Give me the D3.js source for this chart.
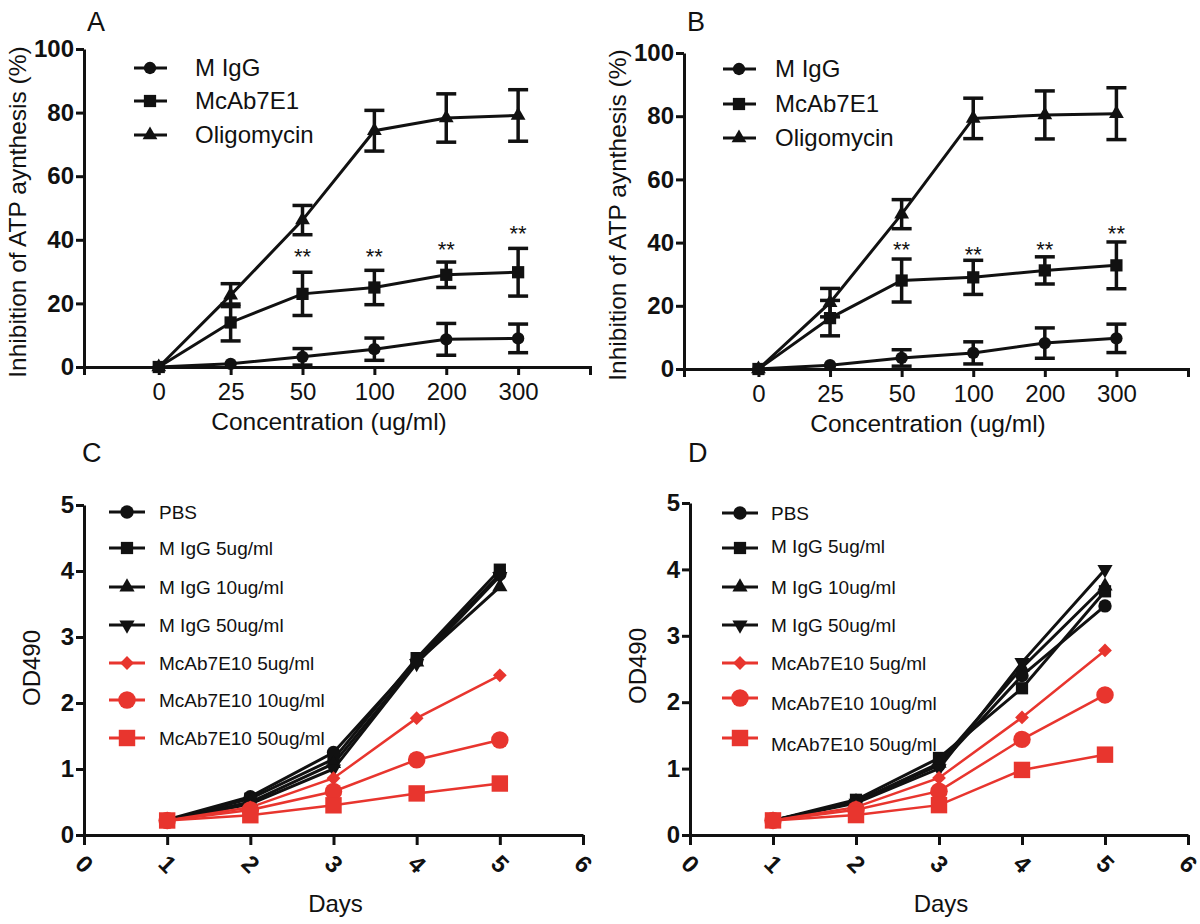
<!DOCTYPE html>
<html>
<head>
<meta charset="utf-8">
<script src="https://cdn.jsdelivr.net/npm/d3@7"></script>
<style>
body { margin: 0; background: #fff; }
text { font-family: "Liberation Sans", Arial, sans-serif; fill: #111; }
</style>
</head>
<body>
<svg id="fig" width="1200" height="924"></svg>
<script>
// panels A and B : inhibition of ATP synthesis
var concLabels = ["0", "25", "50", "100", "200", "300"];
var abNames = ["M IgG", "McAb7E1", "Oligomycin"];

var aIgG = [0, 1.0, 3.2, 5.6, 8.7, 9.0];
var aIgGErr = [0, 0, 2.6, 3.5, 5.0, 4.5];
var aMcAb = [0, 14.0, 23.0, 25.0, 29.0, 29.8];
var aMcAbErr = [0, 5.8, 6.8, 5.4, 4.0, 7.5];
var aOligo = [0, 22.6, 46.2, 74.3, 78.3, 79.1];
var aOligoErr = [0, 3.6, 4.6, 6.4, 7.6, 8.1];
var aStars = [null, null, 36, 36, 38, 43];

var bIgG = [0, 1.2, 3.5, 5.1, 8.2, 9.7];
var bIgGErr = [0, 0, 2.6, 3.5, 4.8, 4.5];
var bMcAb = [0, 16.1, 28.0, 29.0, 31.2, 32.8];
var bMcAbErr = [0, 5.6, 6.8, 5.4, 4.3, 7.4];
var bOligo = [0, 21.0, 49.0, 79.3, 80.4, 80.8];
var bOligoErr = [0, 4.5, 4.6, 6.4, 7.6, 8.2];
var bStars = [null, null, 39, 37.5, 39, 44];

// panels C and D : cell growth (OD490)
var days = [1, 2, 3, 4, 5];
var cdNames = ["PBS", "M IgG 5ug/ml", "M IgG 10ug/ml", "M IgG 50ug/ml",
    "McAb7E10 5ug/ml", "McAb7E10 10ug/ml", "McAb7E10 50ug/ml"];

var cPBS = [0.23, 0.58, 1.25, 2.64, 3.95];
var cIgG5 = [0.22, 0.55, 1.15, 2.68, 4.02];
var cIgG10 = [0.22, 0.50, 1.08, 2.62, 3.76];
var cIgG50 = [0.22, 0.47, 1.00, 2.60, 3.92];
var cMc5 = [0.22, 0.42, 0.86, 1.77, 2.42];
var cMc10 = [0.22, 0.38, 0.66, 1.14, 1.44];
var cMc50 = [0.22, 0.30, 0.45, 0.63, 0.78];

var dPBS = [0.22, 0.50, 1.05, 2.40, 3.45];
var dIgG5 = [0.22, 0.53, 1.16, 2.21, 3.67];
var dIgG10 = [0.22, 0.50, 1.08, 2.52, 3.75];
var dIgG50 = [0.22, 0.48, 1.00, 2.60, 4.00];
var dMc5 = [0.22, 0.42, 0.86, 1.77, 2.78];
var dMc10 = [0.22, 0.38, 0.66, 1.44, 2.11];
var dMc50 = [0.22, 0.30, 0.45, 0.98, 1.21];

var red = "#e8352e";
var svg = d3.select("#fig");

// marker shapes built from d3 symbols (down triangle / diamond are rotated)
function marker(sel, kind, size) {
    var type = d3.symbolCircle, rot = 0;
    if (kind === "square") type = d3.symbolSquare;
    if (kind === "triangle") type = d3.symbolTriangle;
    if (kind === "down") { type = d3.symbolTriangle; rot = 180; }
    if (kind === "diamond") { type = d3.symbolSquare; rot = 45; }
    return sel.attr("d", d3.symbol().type(type).size(size)())
        .attr("data-rot", rot);
}

function place(sel, x, y) {
    sel.attr("transform", function () {
        return "translate(" + x + "," + y + ") rotate(" + this.getAttribute("data-rot") + ")";
    });
}

function styleAxis(g, size, weight) {
    g.selectAll(".domain").attr("stroke", "#111").attr("stroke-width", 3);
    g.selectAll(".tick line").attr("stroke", "#111").attr("stroke-width", 3);
    g.selectAll(".tick text").style("font-size", size + "px")
        .style("font-weight", weight).attr("fill", "#111");
}

// ---------- A / B ----------
function drawATP(p) {
    var g = svg.append("g");
    var x = d3.scaleLinear().domain([-1.04, 6]).range([p.left, p.right]);
    var y = d3.scaleLinear().domain([0, 100]).range([p.bottom, p.top]);

    var xa = g.append("g").attr("transform", "translate(0," + p.bottom + ")")
        .call(d3.axisBottom(x).tickValues([0, 1, 2, 3, 4, 5])
            .tickFormat(function (i) { return concLabels[i]; })
            .tickSize(8).tickSizeOuter(8).tickPadding(8));
    styleAxis(xa, 24, "normal");

    var ya = g.append("g").attr("transform", "translate(" + p.left + ",0)")
        .call(d3.axisLeft(y).tickValues([0, 20, 40, 60, 80, 100])
            .tickSize(8).tickSizeOuter(0).tickPadding(2));
    styleAxis(ya, 24, "bold");

    g.append("text").attr("x", (p.left + p.right) / 2 - 8).attr("y", p.bottom + 63)
        .attr("text-anchor", "middle").style("font-size", "24.5px")
        .text("Concentration (ug/ml)");
    g.append("text")
        .attr("transform", "translate(" + (p.left - 58) + "," + ((p.bottom + p.top) / 2 + 4) + ") rotate(-90)")
        .attr("text-anchor", "middle").style("font-size", "24.5px")
        .text("Inhibition of ATP aynthesis (%)");
    g.append("text").attr("x", p.left + 3).attr("y", 31)
        .style("font-size", "27px").text(p.letter);

    var series = [
        { name: abNames[0], v: p.igg, e: p.iggErr, m: "circle", s: 120 },
        { name: abNames[1], v: p.mcab, e: p.mcabErr, m: "square", s: 150 },
        { name: abNames[2], v: p.oligo, e: p.oligoErr, m: "triangle", s: 95 }
    ];
    var line = d3.line().x(function (d, i) { return x(i); }).y(function (d) { return y(d); });

    series.forEach(function (s) {
        g.append("path").attr("d", line(s.v)).attr("fill", "none")
            .attr("stroke", "#111").attr("stroke-width", 3);
        s.v.forEach(function (v, i) {
            var e = s.e[i];
            if (e > 0) {
                g.append("line").attr("x1", x(i)).attr("x2", x(i))
                    .attr("y1", y(v - e)).attr("y2", y(v + e))
                    .attr("stroke", "#111").attr("stroke-width", 3.5);
                [v - e, v + e].forEach(function (c) {
                    g.append("line").attr("x1", x(i) - 10).attr("x2", x(i) + 10)
                        .attr("y1", y(c)).attr("y2", y(c))
                        .attr("stroke", "#111").attr("stroke-width", 3.5);
                });
            }
            var mk = marker(g.append("path"), s.m, s.s).attr("fill", "#111");
            place(mk, x(i), y(v));
        });
    });

    p.stars.forEach(function (v, i) {
        if (v === null) return;
        g.append("text").attr("x", x(i)).attr("y", y(v) + 11)
            .attr("text-anchor", "middle").style("font-size", "22px").text("**");
    });

    // legend
    series.forEach(function (s, k) {
        var ly = p.legendY[k];
        g.append("line").attr("x1", p.legendX - 16).attr("x2", p.legendX + 17)
            .attr("y1", ly).attr("y2", ly).attr("stroke", "#111").attr("stroke-width", 3);
        place(marker(g.append("path"), s.m, s.s).attr("fill", "#111"), p.legendX, ly);
        g.append("text").attr("x", p.legendX + p.textGap).attr("y", ly + 8)
            .style("font-size", "24px").text(s.name);
    });
}

drawATP({
    letter: "A", left: 84, right: 590, top: 49, bottom: 367,
    igg: aIgG, iggErr: aIgGErr, mcab: aMcAb, mcabErr: aMcAbErr,
    oligo: aOligo, oligoErr: aOligoErr, stars: aStars,
    legendX: 150, legendY: [68, 101, 135], textGap: 45
});
drawATP({
    letter: "B", left: 684, right: 1188, top: 53, bottom: 369,
    igg: bIgG, iggErr: bIgGErr, mcab: bMcAb, mcabErr: bMcAbErr,
    oligo: bOligo, oligoErr: bOligoErr, stars: bStars,
    legendX: 739, legendY: [69, 104, 138], textGap: 36
});

// ---------- C / D ----------
function drawGrowth(p) {
    var g = svg.append("g");
    var x = d3.scaleLinear().domain([0, 6]).range([p.left, p.right]);
    var y = d3.scaleLinear().domain([0, 5]).range([p.bottom, p.top]);

    var xa = g.append("g").attr("transform", "translate(0," + p.bottom + ")")
        .call(d3.axisBottom(x).tickValues([0, 1, 2, 3, 4, 5, 6])
            .tickFormat(d3.format("d")).tickSize(10).tickSizeOuter(0));
    styleAxis(xa, 24, "bold");
    xa.selectAll(".tick text").attr("y", 0).attr("dy", null)
        .attr("dominant-baseline", "central")
        .attr("transform", "translate(0,29) rotate(45)");

    var ya = g.append("g").attr("transform", "translate(" + p.left + ",0)")
        .call(d3.axisLeft(y).tickValues([0, 1, 2, 3, 4, 5])
            .tickFormat(d3.format("d")).tickSize(8).tickSizeOuter(0).tickPadding(2));
    styleAxis(ya, 24, "bold");

    g.append("text").attr("x", (p.left + p.right) / 2 + 2).attr("y", 912)
        .attr("text-anchor", "middle").style("font-size", "24px").text("Days");
    g.append("text")
        .attr("transform", "translate(" + (p.left - 44) + "," + p.titleY + ") rotate(-90)")
        .attr("text-anchor", "middle").style("font-size", "24px").text("OD490");
    g.append("text").attr("x", p.left - 2).attr("y", 462)
        .style("font-size", "27px").text(p.letter);

    var series = [
        { v: p.data[0], m: "circle", s: 140, c: "#111", w: 3 },
        { v: p.data[1], m: "square", s: 150, c: "#111", w: 3 },
        { v: p.data[2], m: "triangle", s: 100, c: "#111", w: 3 },
        { v: p.data[3], m: "down", s: 100, c: "#111", w: 3 },
        { v: p.data[4], m: "diamond", s: 95, c: red, w: 2.5 },
        { v: p.data[5], m: "circle", s: 240, c: red, w: 2.5 },
        { v: p.data[6], m: "square", s: 270, c: red, w: 2.5 }
    ];
    var line = d3.line().x(function (d, i) { return x(days[i]); }).y(function (d) { return y(d); });

    series.forEach(function (s) {
        g.append("path").attr("d", line(s.v)).attr("fill", "none")
            .attr("stroke", s.c).attr("stroke-width", s.w);
    });
    series.forEach(function (s) {
        s.v.forEach(function (v, i) {
            place(marker(g.append("path"), s.m, s.s).attr("fill", s.c), x(days[i]), y(v));
        });
    });

    // legend
    series.forEach(function (s, k) {
        var ly = p.legendY[k];
        g.append("line").attr("x1", p.legendX - 18).attr("x2", p.legendX + 18)
            .attr("y1", ly).attr("y2", ly).attr("stroke", s.c).attr("stroke-width", 3);
        place(marker(g.append("path"), s.m, s.s).attr("fill", s.c), p.legendX, ly);
        g.append("text").attr("x", p.legendX + p.textGap).attr("y", ly + 7 + p.textShift[k])
            .style("font-size", "19px").text(cdNames[k]);
    });
}

drawGrowth({
    letter: "C", left: 84, right: 583, top: 505, bottom: 835, titleY: 668,
    data: [cPBS, cIgG5, cIgG10, cIgG50, cMc5, cMc10, cMc50],
    legendX: 127, legendY: [512, 548, 587, 625, 663, 700, 738],
    textGap: 32, textShift: [0, 0, 0, 0, 0, 0, 0]
});
drawGrowth({
    letter: "D", left: 690, right: 1188, top: 503, bottom: 835, titleY: 666,
    data: [dPBS, dIgG5, dIgG10, dIgG50, dMc5, dMc10, dMc50],
    legendX: 740, legendY: [513, 548, 587, 625, 663, 698, 738],
    textGap: 31, textShift: [0, -2, 0, 0, 0, 5, 6]
});
</script>
</body>
</html>
